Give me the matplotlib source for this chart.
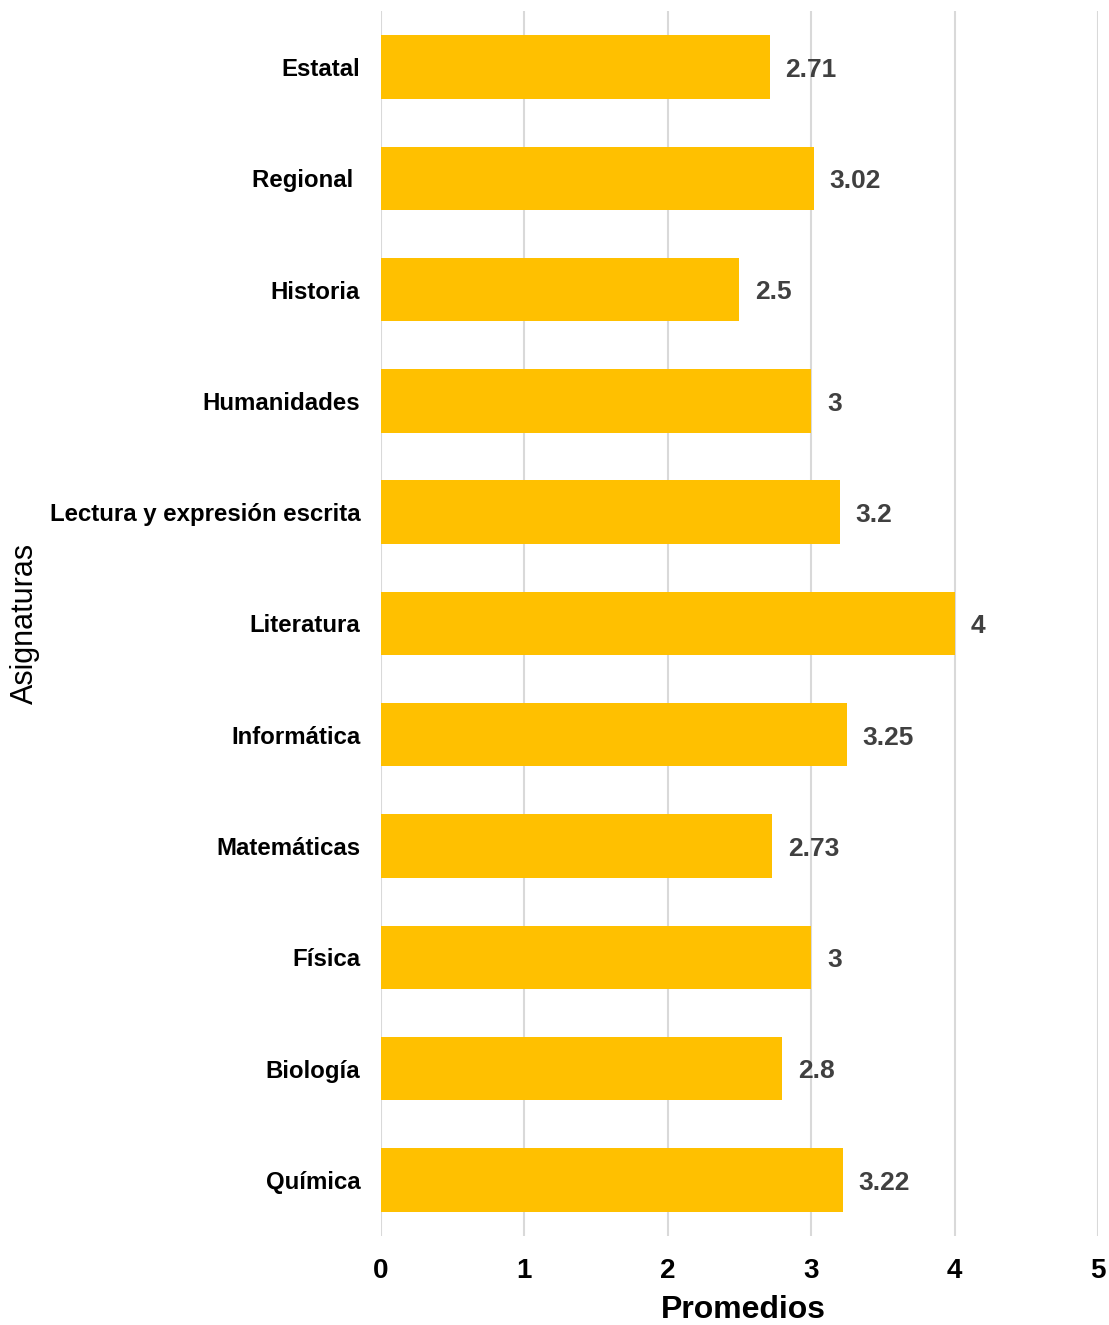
import numpy as np
import matplotlib.pyplot as plt

plt.rcParams['font.family'] = ['Liberation Sans', 'DejaVu Sans']

# data (top to bottom as in the chart)
asignaturas = ['Estatal', 'Regional ', 'Historia', 'Humanidades',
               'Lectura y expresión escrita', 'Literatura', 'Informática',
               'Matemáticas', 'Física', 'Biología', 'Química']
promedios = [2.71, 3.02, 2.5, 3, 3.2, 4, 3.25, 2.73, 3, 2.8, 3.22]
etiquetas = ['2.71', '3.02', '2.5', '3', '3.2', '4', '3.25', '2.73', '3', '2.8', '3.22']
x_ticks = [0, 1, 2, 3, 4, 5]

fig = plt.figure(figsize=(11.09, 13.25), dpi=100)
ax = fig.add_axes([0.3436, 0.0675, 0.990 - 0.3436, 0.9914 - 0.0675])

y = np.arange(len(asignaturas))
bars = ax.barh(y, promedios, height=0.57, color='#FFC000', zorder=2)

for b, lab in zip(bars, etiquetas):
    ax.text(b.get_width() + 0.11, b.get_y() + b.get_height() / 2 + 0.025, lab,
            va='center', ha='left', fontsize=19, fontweight='bold',
            color='#404040', zorder=3)

ax.set_xlim(0, 5)
ax.set_ylim(len(asignaturas) - 0.5, -0.5)
ax.set_xticks(x_ticks)
ax.set_yticks(y)
ax.set_yticklabels(asignaturas, fontsize=17.3, fontweight='bold')
ax.tick_params(axis='y', length=0, pad=15)
ax.tick_params(axis='x', length=0, pad=16, labelsize=20)
for t in ax.get_xticklabels():
    t.set_fontweight('bold')

ax.grid(axis='x', color='#D9D9D9', linewidth=1.5, zorder=0)
for s in ax.spines.values():
    s.set_visible(False)

ax.set_xlabel('Promedios', fontsize=23, fontweight='bold')
ax.xaxis.set_label_coords(0.506, -0.0485)
fig.text(25 / 1109, 1 - 623 / 1325, 'Asignaturas', fontsize=22,
         rotation=90, ha='center', va='center')

fig.savefig('out.png', dpi=100)
